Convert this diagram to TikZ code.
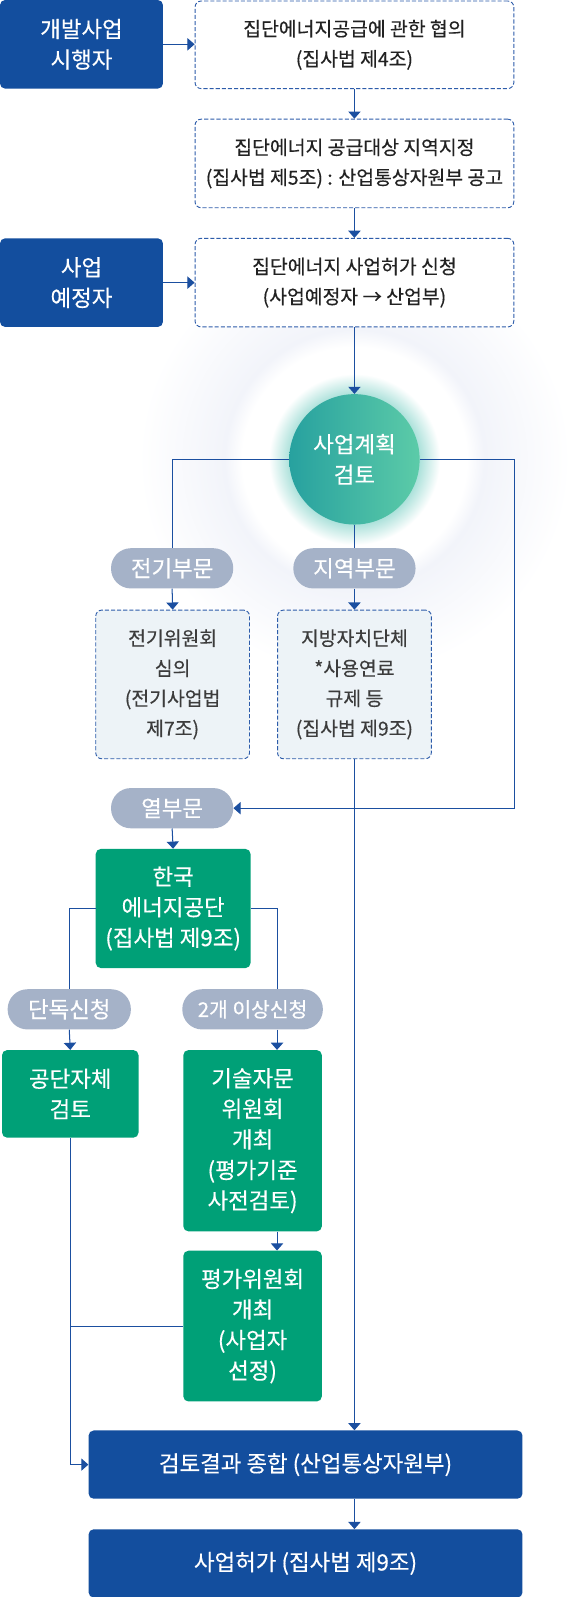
\documentclass[tikz,border=0pt]{standalone}
\usepackage{fontspec}
\setmainfont[FakeBold=0.35]{Noto Sans CJK KR}
\usetikzlibrary{arrows.meta,shapes.misc}

\definecolor{navy}{HTML}{134E9E}
\definecolor{lineblue}{HTML}{1B4FA0}
\definecolor{dashblue}{HTML}{2D5CAA}
\definecolor{kgreen}{HTML}{00A077}
\definecolor{pillgray}{HTML}{A5B2C8}
\definecolor{paleblue}{HTML}{EDF3F7}
\definecolor{haloblue}{HTML}{F2F4FA}
\definecolor{glowteal}{HTML}{A6DFD8}
\definecolor{circleft}{HTML}{27A19F}
\definecolor{circright}{HTML}{5CCBA8}
\definecolor{darktext}{HTML}{222222}
\definecolor{graytext}{HTML}{3C3C3C}

% soft background round the review circle
\pgfdeclareradialshading{halo}{\pgfpoint{0bp}{0bp}}{color(0bp)=(white); color(13bp)=(white); color(15bp)=(haloblue); color(25bp)=(white); color(50bp)=(white)}
\pgfdeclareradialshading{tealglow}{\pgfpoint{0bp}{0bp}}{color(0bp)=(glowteal); color(18.5bp)=(glowteal); color(25bp)=(white); color(50bp)=(white)}

\tikzset{
  bigtext/.style={font=\fontsize{22}{30}\selectfont},
  navybox/.style={rectangle, rounded corners=5pt, fill=navy, text=white, align=center, inner sep=0pt, bigtext},
  greenbox/.style={rectangle, rounded corners=5pt, fill=kgreen, text=white, align=center, inner sep=0pt, bigtext},
  dashbox/.style={rectangle, rounded corners=6pt, draw=dashblue, line width=0.9pt, dash pattern=on 4pt off 2pt, fill=white, text=darktext, align=center, inner sep=0pt, font=\fontsize{19}{29.5}\selectfont},
  palebox/.style={dashbox, fill=paleblue, text=graytext},
  pill/.style={rectangle, rounded corners=19.5pt, fill=pillgray, text=white, inner sep=0pt, minimum height=39.5pt, bigtext},
  link/.style={draw=lineblue, line width=1pt},
  arr/.style={link, -{Triangle[width=12pt,length=7pt]}}
}

\begin{document}
\begin{tikzpicture}[x=1pt, y=-1pt]
\fill[white] (0,0) rectangle (567,1568);
\useasboundingbox (0,0) rectangle (567,1568);

% glow behind the circle
\shade[shading=halo] (348,451) circle (212);
\shade[shading=tealglow] (348,451) circle (84);

% top part
\node[navybox, minimum width=160pt, minimum height=87pt] (dev) at (80,43.5) {개발사업\\시행자};
\node[dashbox, minimum width=313pt, minimum height=86pt] (consult) at (348,44) {집단에너지공급에 관한 협의\\(집사법 제4조)};
\node[dashbox, minimum width=313pt, minimum height=87pt] (zone) at (348,160.5) {집단에너지 공급대상 지역지정\\(집사법 제5조) : 산업통상자원부 공고};
\node[navybox, minimum width=160pt, minimum height=87pt] (pre) at (80,277.5) {사업\\예정자};
\node[dashbox, minimum width=313pt, minimum height=87pt] (apply) at (348,277.5) {집단에너지 사업허가 신청\\(사업예정자 → 산업부)};

% review
\node[circle, minimum size=128pt, inner sep=0pt, left color=circleft, right color=circright, text=white, align=center, bigtext] (plan) at (348,451) {사업계획\\검토};

\node[pill, minimum width=120pt] (elec) at (169,558) {전기부문};
\node[pill, minimum width=120pt] (local) at (348,558) {지역부문};
\node[palebox, minimum width=151pt, minimum height=146pt] (elecrev) at (169.5,672) {전기위원회\\심의\\(전기사업법\\제7조)};
\node[palebox, minimum width=151pt, minimum height=146pt] (localrev) at (348,672) {지방자치단체\\*사용연료\\규제 등\\(집사법 제9조)};
\node[pill, minimum width=120pt] (heat) at (169,793.5) {열부문};

% heat branch
\node[greenbox, minimum width=152pt, minimum height=117pt] (kea) at (170,892) {한국\\에너지공단\\(집사법 제9조)};
\node[pill, minimum width=121pt] (solo) at (68,991) {단독신청};
\node[pill, minimum width=138pt, font=\fontsize{20}{30}\selectfont] (multi) at (248,991) {2개 이상신청};
\node[greenbox, minimum width=134pt, minimum height=86pt] (selfrev) at (69,1074) {공단자체\\검토};
\node[greenbox, minimum width=136pt, minimum height=178pt] (tech) at (248,1120) {기술자문\\위원회\\개최\\(평가기준\\사전검토)};
\node[greenbox, minimum width=136pt, minimum height=148pt] (evalc) at (248,1302) {평가위원회\\개최\\(사업자\\선정)};

% result
\node[navybox, minimum width=426pt, minimum height=67pt] (summary) at (300,1438) {검토결과 종합 (산업통상자원부)};
\node[navybox, minimum width=426pt, minimum height=67pt] (permit) at (300,1535) {사업허가 (집사법 제9조)};

% connectors
\draw[arr] (dev.east) -- (dev.east -| consult.west);
\draw[arr] (consult.south) -- (zone.north);
\draw[arr] (zone.south) -- (apply.north);
\draw[arr] (pre.east) -- (apply.west);
\draw[arr] (apply.south) -- (plan.north);
\draw[link] (plan.west) -| (elec.north);
\draw[link] (plan.south) -- (local.north);
\draw[arr] (plan.east) -- (plan.east -| consult.east) |- (heat.east);
\draw[arr] (elec.south) -- (elecrev.north);
\draw[arr] (local.south) -- (localrev.north);
\draw[arr] (localrev.south) -- (localrev.south |- summary.north);
\draw[arr] (heat.south) -- (kea.north);
\draw[link] (kea.west) -| (solo.north);
\draw[link] (kea.east) -| ([xshift=24pt]multi.north);
\draw[arr] (solo.south) -- (selfrev.north);
\draw[arr] ([xshift=24pt]multi.south) -- ([xshift=24pt]tech.north);
\draw[arr] ([xshift=24pt]tech.south) -- ([xshift=24pt]evalc.north);
\draw[arr] (selfrev.south) |- (summary.west);
\draw[link] (evalc.west) -- (evalc.west -| selfrev.south);
\draw[arr] (summary.south -| localrev.south) -- (permit.north -| localrev.south);
\end{tikzpicture}
\end{document}
